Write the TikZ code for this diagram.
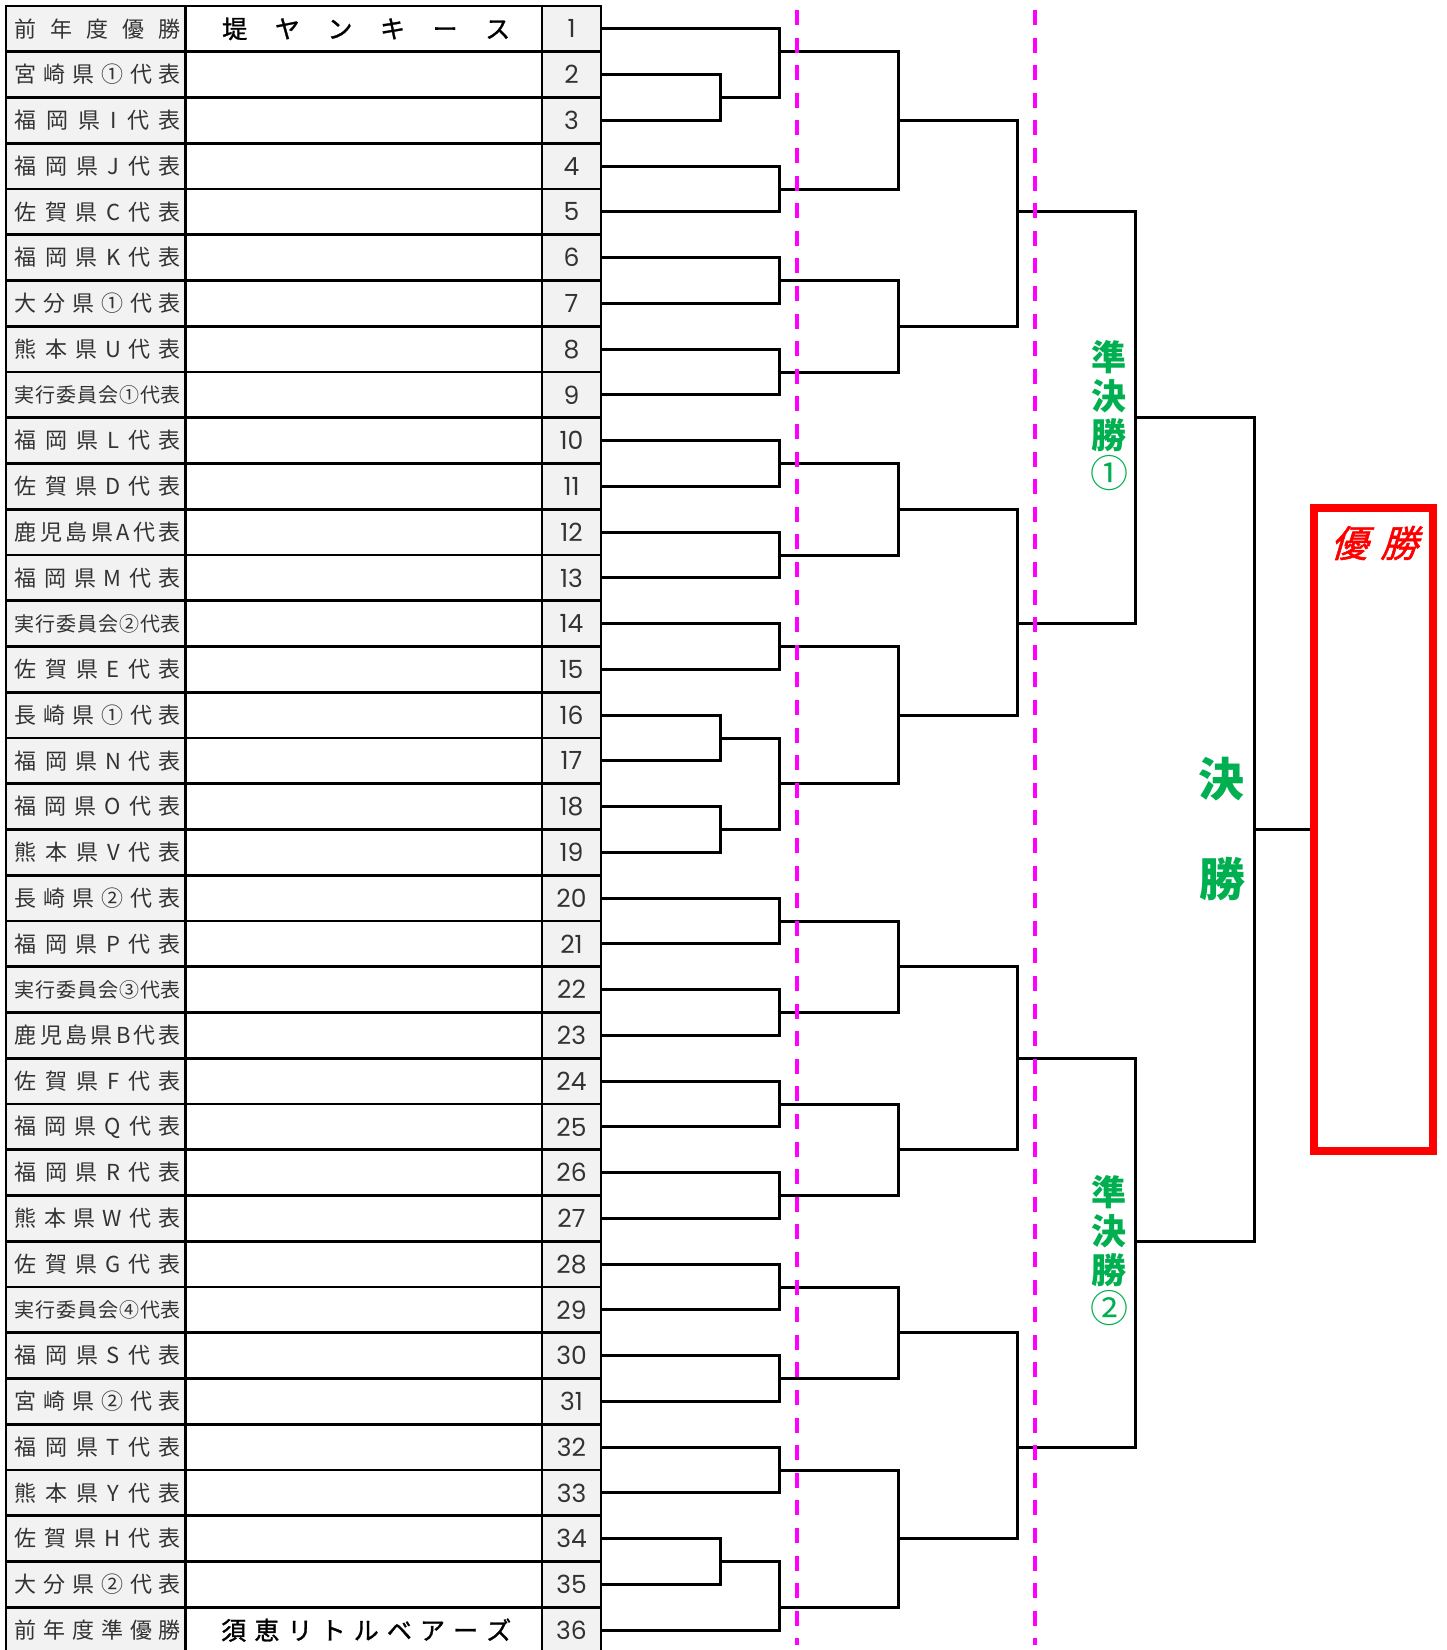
\documentclass[tikz,border=0pt]{standalone}
\usepackage{fontspec}
\setmainfont{Noto Sans CJK JP}
\newfontfamily\numfont{Poppins}
\newfontfamily\slfont{Noto Sans CJK JP}[FakeSlant=0.3,FakeBold=1.5]
\newfontfamily\namefont{Noto Sans CJK JP}[FakeBold=1.2]
\definecolor{cellgray}{HTML}{F2F2F2}
\definecolor{txtgray}{HTML}{333333}
\definecolor{exgreen}{HTML}{00B050}
\definecolor{mag}{HTML}{FF00FF}
\def\spreadA#1#2{#1\ifx\relax#2\else\hfill\expandafter\spreadA\expandafter#2\fi}
\def\spreadit#1{\expandafter\spreadA#1\relax}
\def\yy#1{6+#1*22.875}
\begin{document}
\begin{tikzpicture}[x=1pt,y=-1pt,
  cellbase/.style={draw=black, line width=2.8pt, inner sep=0pt, minimum height=45.75pt, anchor=center},
  lcell/.style={cellbase, fill=cellgray, minimum width=179.5pt, text=txtgray},
  ncell/.style={cellbase, fill=white, minimum width=356.5pt},
  numcell/.style={cellbase, fill=cellgray, minimum width=59pt, text=txtgray, font=\numfont\fontsize{25}{25}\selectfont},
  wire/.style={draw=black, line width=3pt, line join=miter},
  dashline/.style={draw=mag, line width=3.7pt, dash pattern=on 15pt off 12.6pt},
  teamname/.style={inner sep=0pt, text=black, font=\namefont\fontsize{25}{25}\selectfont},
  semilbl/.style={inner sep=0pt, text=exgreen, align=center, font=\bfseries\fontsize{35}{39}\selectfont},
  finlbl/.style={inner sep=0pt, text=exgreen, font=\bfseries\fontsize{46}{46}\selectfont},
  winbox/.style={draw=red, line width=8pt, minimum width=119pt, minimum height=643pt, inner sep=0pt}
]
\useasboundingbox (0,0) rectangle (1447,1650);
\fill[white] (0,0) rectangle (1447,1650);

% ---- table ----
\foreach \k/\lab/\fs in {1/前年度優勝/22, 2/宮崎県①代表/22, 3/福岡県I代表/22, 4/福岡県J代表/22,
  5/佐賀県C代表/22, 6/福岡県K代表/22, 7/大分県①代表/22, 8/熊本県U代表/22, 9/実行委員会①代表/20,
  10/福岡県L代表/22, 11/佐賀県D代表/22, 12/鹿児島県A代表/22, 13/福岡県M代表/22, 14/実行委員会②代表/20,
  15/佐賀県E代表/22, 16/長崎県①代表/22, 17/福岡県N代表/22, 18/福岡県O代表/22, 19/熊本県V代表/22,
  20/長崎県②代表/22, 21/福岡県P代表/22, 22/実行委員会③代表/20, 23/鹿児島県B代表/22, 24/佐賀県F代表/22,
  25/福岡県Q代表/22, 26/福岡県R代表/22, 27/熊本県W代表/22, 28/佐賀県G代表/22, 29/実行委員会④代表/20,
  30/福岡県S代表/22, 31/宮崎県②代表/22, 32/福岡県T代表/22, 33/熊本県Y代表/22, 34/佐賀県H代表/22,
  35/大分県②代表/22, 36/前年度準優勝/22}{
  \pgfmathsetmacro\yc{6+(2*\k-1)*22.875}
  \node[lcell, font=\fontsize{\fs}{\fs}\selectfont] (l\k) at (95.75,\yc) {\hspace*{4.5pt}\hbox to 166pt{\spreadit{\lab}}};
  \node[ncell] (n\k) at (363.75,\yc) {};
  \node[numcell] (num\k) at (571.5,\yc) {\k};
  \coordinate (t\k) at (601,\yc);
}
\node[teamname] (name1) at ([xshift=2.5pt]n1.center) {\hbox to 288pt{堤\hfill ヤ\hfill ン\hfill キ\hfill ー\hfill ス}};
\node[teamname] (name36) at ([xshift=2.5pt]n36.center) {\hbox to 290pt{須\hfill 恵\hfill リ\hfill ト\hfill ル\hfill ベ\hfill ア\hfill ー\hfill ズ}};

% ---- junction coordinates ----
\coordinate (p23) at (720,{\yy{4}});
\coordinate (p1617) at (720,{\yy{32}});
\coordinate (p1819) at (720,{\yy{36}});
\coordinate (p3435) at (720,{\yy{68}});
\foreach \n/\j in {a1/2, a2/8, a3/12, a4/16, a5/20, a6/24, a7/28, a8/34, a9/40, a10/44, a11/48, a12/52, a13/56, a14/60, a15/64, a16/70}
  \coordinate (\n) at (779,{\yy{\j}});
\foreach \n/\j in {b1/5, b2/14, b3/22, b4/31, b5/42, b6/50, b7/58, b8/67}
  \coordinate (\n) at (898,{\yy{\j}});
\foreach \n/\j in {c1/9, c2/27, c3/46, c4/63}
  \coordinate (\n) at (1017,{\yy{\j}});
\coordinate (s1) at (1135.5,{\yy{18}});
\coordinate (s2) at (1135.5,{\yy{54}});
\coordinate (fn) at (1254,{\yy{36}});

% ---- bracket ----
\draw[wire] (t2) -| (p23) |- (t3);
\draw[wire] (t16) -| (p1617) |- (t17);
\draw[wire] (t18) -| (p1819) |- (t19);
\draw[wire] (t34) -| (p3435) |- (t35);
\draw[wire] (t1) -| (a1) |- (p23);
\draw[wire] (t4) -| (a2) |- (t5);
\draw[wire] (t6) -| (a3) |- (t7);
\draw[wire] (t8) -| (a4) |- (t9);
\draw[wire] (t10) -| (a5) |- (t11);
\draw[wire] (t12) -| (a6) |- (t13);
\draw[wire] (t14) -| (a7) |- (t15);
\draw[wire] (p1617) -| (a8) |- (p1819);
\draw[wire] (t20) -| (a9) |- (t21);
\draw[wire] (t22) -| (a10) |- (t23);
\draw[wire] (t24) -| (a11) |- (t25);
\draw[wire] (t26) -| (a12) |- (t27);
\draw[wire] (t28) -| (a13) |- (t29);
\draw[wire] (t30) -| (a14) |- (t31);
\draw[wire] (t32) -| (a15) |- (t33);
\draw[wire] (p3435) -| (a16) |- (t36);
\draw[wire] (a1) -| (b1) |- (a2);
\draw[wire] (a3) -| (b2) |- (a4);
\draw[wire] (a5) -| (b3) |- (a6);
\draw[wire] (a7) -| (b4) |- (a8);
\draw[wire] (a9) -| (b5) |- (a10);
\draw[wire] (a11) -| (b6) |- (a12);
\draw[wire] (a13) -| (b7) |- (a14);
\draw[wire] (a15) -| (b8) |- (a16);
\draw[wire] (b1) -| (c1) |- (b2);
\draw[wire] (b3) -| (c2) |- (b4);
\draw[wire] (b5) -| (c3) |- (b6);
\draw[wire] (b7) -| (c4) |- (b8);
\draw[wire] (c1) -| (s1) |- (c2);
\draw[wire] (c3) -| (s2) |- (c4);
\draw[wire] (s1) -| (fn) |- (s2);

% ---- winner box ----
\node[winbox] (box) at (1373.5,829.5) {};
\draw[wire] (fn) -- (box.west);
\node[inner sep=0pt, text=red, font=\slfont\fontsize{37}{37}\selectfont] (yusho) at (1374,543) {優\hspace{13pt}勝};

% ---- round labels ----
\node[semilbl] (semi1) at (1109,416) {準\\決\\勝\\{\mdseries\fontsize{38}{39}\selectfont ①}};
\node[semilbl] (semi2) at (1109,1251) {準\\決\\勝\\{\mdseries\fontsize{38}{39}\selectfont ②}};
\node[finlbl] (fin1) at (1221,779) {決};
\node[finlbl] (fin2) at (1222,879) {勝};

% ---- dashed guide lines ----
\coordinate (d1a) at (797,10); \coordinate (d1b) at (797,1645);
\coordinate (d2a) at (1035,10); \coordinate (d2b) at (1035,1645);
\draw[dashline] (d1a) -- (d1b);
\draw[dashline] (d2a) -- (d2b);
\end{tikzpicture}
\end{document}
